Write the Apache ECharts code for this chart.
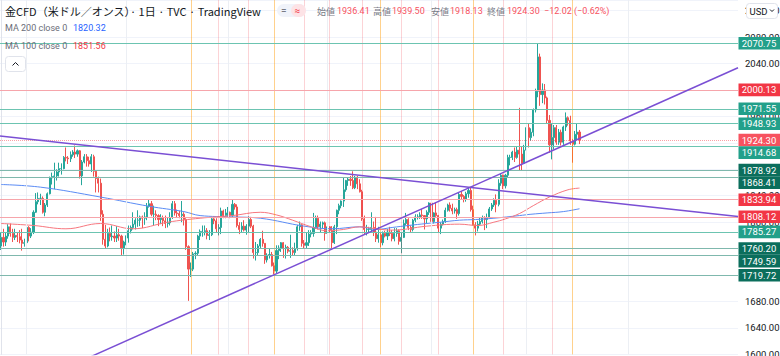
<!DOCTYPE html>
<html><head><meta charset="utf-8">
<script src="https://cdn.jsdelivr.net/npm/echarts@6/dist/echarts.min.js"></script>
<style>html,body{margin:0;padding:0;background:#fff}#c{width:780px;height:356px}</style>
</head><body><div id="c"></div>
<script>
// ---- data ----
const startDate = '2021-04-16';
const totalSlots = 319; // bars + empty right margin
// daily candles [open, close, low, high]
const ohlc = [
[1764,1777,1758,1784],[1777,1770,1763,1790],[1770,1779,1764,1784],[1779,1793,1775,1797],[1793,1783,1778,1798],
[1783,1777,1770,1790],[1777,1780,1773,1790],[1780,1778,1770,1784],[1778,1773,1768,1788],[1773,1768,1757,1790],
[1768,1769,1763,1775],[1769,1792,1767,1798],[1792,1779,1771,1794],[1779,1785,1776,1791],[1785,1815,1782,1818],
[1815,1831,1814,1844],[1831,1836,1827,1845],[1836,1836,1826,1843],[1836,1815,1813,1839],[1815,1826,1809,1829],
[1826,1843,1823,1845],[1843,1867,1842,1869],[1867,1869,1857,1875],[1869,1870,1850,1890],[1870,1876,1863,1880],
[1876,1881,1869,1890],[1881,1881,1872,1889],[1881,1898,1880,1900],[1898,1897,1892,1913],[1897,1896,1888,1900],
[1896,1902,1891,1907],[1902,1906,1899,1909],[1906,1903,1897,1916],[1903,1908,1899,1910],[1908,1870,1866,1909],
[1870,1891,1856,1894],[1891,1899,1889,1903],[1899,1893,1884,1903],[1893,1888,1884,1899],[1888,1899,1876,1903],
[1899,1877,1869,1902],[1877,1866,1845,1878],[1866,1859,1845,1869],[1859,1812,1802,1866],[1812,1774,1766,1818],
[1774,1764,1760,1796],[1764,1783,1762,1790],[1783,1778,1771,1792],[1778,1779,1772,1795],[1779,1776,1770,1786],
[1776,1781,1770,1794],[1781,1779,1772,1790],[1779,1761,1750,1781],[1761,1770,1751,1772],[1770,1776,1765,1780],
[1776,1787,1769,1795],[1787,1792,1783,1795],[1792,1797,1789,1815],[1797,1803,1789,1806],[1803,1803,1793,1818],
[1803,1808,1794,1810],[1808,1806,1791,1810],[1806,1808,1796,1815],[1808,1824,1803,1829],[1824,1828,1822,1834],
[1828,1812,1809,1832],[1812,1812,1795,1825],[1812,1810,1803,1818],[1810,1804,1794,1812],[1804,1806,1797,1812],
[1806,1802,1794,1810],[1802,1798,1791,1810],[1798,1799,1792,1807],[1799,1807,1795,1815],[1807,1828,1805,1832],
[1828,1814,1810,1832],[1814,1813,1807,1819],[1813,1810,1806,1817],[1810,1812,1800,1832],[1812,1804,1795,1815],
[1804,1763,1758,1806],[1763,1729,1681,1765],[1729,1729,1717,1739],[1729,1752,1726,1755],[1752,1753,1744,1756],
[1753,1779,1749,1781],[1779,1786,1773,1789],[1786,1786,1778,1795],[1786,1787,1780,1795],[1787,1780,1774,1791],
[1780,1781,1773,1788],[1781,1805,1779,1807],[1805,1802,1797,1809],[1802,1790,1785,1806],[1790,1792,1780,1797],
[1792,1817,1782,1822],[1817,1810,1806,1819],[1810,1814,1806,1820],[1814,1815,1808,1823],[1815,1810,1806,1816],
[1810,1827,1808,1834],[1827,1823,1819,1829],[1823,1795,1792,1827],[1795,1789,1782,1800],[1789,1794,1784,1800],
[1794,1788,1786,1803],[1788,1794,1781,1797],[1794,1804,1785,1809],[1804,1794,1791,1808],[1794,1754,1745,1796],
[1754,1754,1742,1770],[1754,1764,1750,1767],[1764,1774,1761,1776],[1774,1768,1763,1787],[1768,1743,1737,1768],
[1743,1750,1739,1753],[1750,1751,1745,1760],[1751,1734,1733,1755],[1734,1726,1721,1739],[1726,1757,1723,1765],
[1757,1761,1744,1765],[1761,1769,1755,1770],[1769,1760,1746,1770],[1760,1762,1745,1766],[1762,1756,1753,1764],
[1756,1757,1746,1781],[1757,1754,1749,1762],[1754,1760,1750,1769],[1760,1793,1757,1796],[1793,1796,1787,1801],
[1796,1768,1763,1797],[1768,1765,1760,1773],[1765,1769,1760,1785],[1769,1782,1764,1788],[1782,1783,1777,1788],
[1783,1792,1778,1814],[1792,1806,1790,1810],[1806,1793,1789,1810],[1793,1797,1784,1801],[1797,1799,1791,1801],
[1799,1783,1772,1801],[1783,1793,1780,1796],[1793,1788,1785,1794],[1788,1769,1758,1794],[1769,1793,1767,1796],
[1793,1818,1782,1819],[1818,1825,1812,1828],[1825,1832,1821,1833],[1832,1849,1823,1868],[1849,1863,1846,1864],
[1863,1865,1855,1868],[1865,1863,1855,1870],[1863,1852,1850,1877],[1852,1868,1850,1870],[1868,1858,1850,1870],
[1858,1846,1845,1865],[1846,1805,1802,1849],[1805,1789,1782,1810],[1789,1789,1780,1796],[1789,1789,1784,1793],
[1789,1792,1784,1815],[1792,1785,1779,1801],[1785,1775,1770,1808],[1775,1781,1769,1793],[1781,1769,1762,1785],
[1769,1783,1765,1786],[1783,1779,1777,1787],[1779,1785,1773,1790],[1785,1783,1779,1793],[1783,1775,1771,1788],
[1775,1783,1771,1791],[1783,1787,1778,1791],[1787,1771,1766,1789],[1771,1777,1753,1785],[1777,1798,1776,1804],
[1798,1804,1795,1814],[1804,1792,1788,1806],[1792,1789,1784,1795],[1789,1803,1786,1805],[1803,1808,1800,1812],
[1808,1808,1804,1812],[1808,1811,1805,1815],[1811,1810,1805,1820],[1810,1805,1789,1810],[1805,1815,1798,1818],
[1815,1829,1811,1830],[1829,1801,1798,1832],[1801,1814,1798,1815],[1814,1810,1808,1830],[1810,1791,1785,1811],
[1791,1797,1782,1800],[1797,1801,1795,1804],[1801,1818,1799,1822],[1818,1826,1816,1828],[1826,1821,1816,1830],
[1821,1817,1812,1828],[1817,1819,1813,1822],[1819,1813,1805,1822],[1813,1842,1810,1845],[1842,1839,1834,1847],
[1839,1835,1830,1841],[1835,1843,1831,1846],[1843,1848,1837,1853],[1848,1819,1816,1852],[1819,1796,1795,1825],
[1796,1791,1780,1800],[1791,1797,1786,1802],[1797,1801,1795,1807],[1801,1807,1798,1810],[1807,1804,1788,1809],
[1804,1807,1791,1813],[1807,1820,1806,1823],[1820,1826,1817,1829],[1826,1833,1823,1836],[1833,1827,1815,1842],
[1827,1859,1824,1865],[1859,1871,1855,1874],[1871,1855,1850,1872],[1855,1871,1851,1873],[1871,1898,1868,1902],
[1898,1898,1886,1902],[1898,1906,1894,1908],[1906,1898,1891,1913],[1898,1909,1896,1914],[1909,1903,1878,1973],
[1903,1889,1878,1914],[1889,1909,1889,1917],[1909,1943,1900,1950],[1943,1928,1913,1949],[1928,1936,1923,1942],
[1936,1970,1930,1972],[1970,1998,1966,2002],[1998,2050,1989,2070.75],[2050,1993,1976,2055],[1993,2000,1980,2010],
[2000,1988,1978,2009],[1988,1954,1949,1990],[1954,1917,1905,1962],[1917,1928,1895,1949],[1928,1943,1910,1947],
[1943,1921,1917,1947],[1921,1936,1917,1941],[1936,1921,1916,1940],[1921,1944,1917,1946],[1944,1958,1938,1966],
[1958,1954,1946,1960],[1954,1923,1917,1961],[1923,1918,1890,1926],[1918,1933,1916,1938],[1933,1936.32,1924,1949],
[1936.41,1924.30,1918.13,1939.50]
];
// moving averages: [bar index, value]
const ma100 = [[0,1798],[14,1795],[28,1790],[43,1798],[57,1790],[72,1800],[86,1806],[100,1810],[112,1815],[119,1811],[126,1803],[134,1793],[141,1787],[148,1789],[155,1793],[162,1790],[169,1788],[184,1794],[198,1797],[206,1795],[213,1800],[218,1805],[224,1813],[230,1825],[237,1838],[245,1849],[250,1851.56]];
const ma200 = [[0,1857],[17,1853],[43,1838],[64,1824],[79,1816],[86,1810],[100,1808],[112,1806],[131,1794],[143,1790],[155,1793],[162,1789],[169,1792],[176,1795],[184,1798],[190,1800],[198,1803],[205,1804],[213,1806],[224,1810],[229,1812],[236,1814],[243,1816],[250,1820.32]];
// horizontal levels
const levels     = [2070.75, 2000.13, 1971.55, 1948.93, 1914.68, 1878.92, 1868.41, 1833.94, 1808.12, 1785.27, 1760.20, 1749.59, 1719.72];
const levelKinds = ['teal','red','teal','teal','teal','dark','dark','red','red','teal','dark','dark','dark'];
// trend lines: [[barIndex, price],[barIndex, price]]
const trendDown = [[-0.5,1930.35],[318.5,1808.55]];
const trendUp   = [[39,1597],[318.5,2033.6]];
// vertical markers (bar index)
const orangeMarks = [82,118,164,204,247];
const pinkMarks   = [94,107,131,142,156,173,189,217,238];
const monthGrid   = [11,54,98,141,186,227,271];
// y axis
const yMin = 1600, yMax = 2136.1, yStep = 40;
// header
const title = '金CFD（米ドル／オンス）· 1日 · TVC · TradingView';
const ohlcNames = ['始値','高値','安値','終値'];
const maNames = ['MA 200 close 0','MA 100 close 0'];

// ---- derived ----
function weekdays(start, n){const out=[];const d=new Date(start+'T00:00:00Z');while(out.length<n){const w=d.getUTCDay();if(w!==0&&w!==6)out.push(d.toISOString().slice(0,10));d.setUTCDate(d.getUTCDate()+1);}return out;}
const categories = weekdays(startDate, totalSlots);
const last = ohlc[ohlc.length-1], prev = ohlc[ohlc.length-2];
const chg = last[1]-prev[1], pct = chg/prev[1]*100;
const signed = v => (v<0?'−':'+')+Math.abs(v).toFixed(2);

const kindStyle = {
  teal:{line:'#6cc4b1', bg:'#22a08a'},
  dark:{line:'#7fb8ad', bg:'#0b6e5c'},
  red: {line:'#f6a5ab', bg:'#f23645'},
  last:{line:'#f7525f', bg:'#f7525f'}
};

const chart = echarts.init(document.getElementById('c'), null, {renderer:'svg'});
const CJK = '"Noto Sans CJK JP", sans-serif';
const LAT = 'Roboto, "Noto Sans", sans-serif';

const vMark = (arr, color) => ({
  silent:true, symbol:'none', label:{show:false}, animation:false,
  lineStyle:{color, width:1, type:'solid'},
  data: arr.map(v=>({xAxis:v}))
});

const baseOption = {
  animation:false,
  grid:{left:0, right:42, top:0, bottom:1.6, outerBoundsMode:'none', containLabel:false},
  xAxis:[
    {type:'category', data:categories, boundaryGap:true, show:false},
    {type:'value', min:-0.5, max:totalSlots-0.5, show:false}
  ],
  yAxis:{type:'value', position:'right', min:yMin, max:yMax, interval:yStep,
    axisLine:{show:true, lineStyle:{color:'#e0e3eb'}}, axisTick:{show:false},
    axisLabel:{formatter:v=>v.toFixed(2), color:'#131722', fontSize:9.5, fontFamily:LAT, margin:7, showMaxLabel:false},
    splitLine:{show:true, lineStyle:{color:'#f0f3fa', width:1}}},
  series:[
    {type:'line', xAxisIndex:1, data:[], z:1, markLine:vMark(monthGrid,'#eceff4')},
    {type:'line', xAxisIndex:1, data:[], z:1, markLine:vMark(orangeMarks,'rgba(255,152,0,0.45)')},
    {type:'line', xAxisIndex:1, data:[], z:1, markLine:vMark(pinkMarks,'rgba(242,54,69,0.22)')},
    {type:'candlestick', xAxisIndex:0, data:ohlc, barWidth:1.6, z:3,
      itemStyle:{color:'#26a69a', color0:'#ef5350', borderColor:'#26a69a', borderColor0:'#ef5350', borderWidth:1}},
    {type:'line', xAxisIndex:1, data:ma200, smooth:0.4, symbol:'none', z:4, lineStyle:{color:'#5b8cf5', width:1}},
    {type:'line', xAxisIndex:1, data:ma100, smooth:0.4, symbol:'none', z:4, lineStyle:{color:'#f7777f', width:1}},
    {type:'line', xAxisIndex:1, data:[], z:5, markLine:{silent:true, symbol:'none', label:{show:false}, animation:false,
      data: levels.map((v,k)=>({yAxis:v, lineStyle:{color:kindStyle[levelKinds[k]].line, width:1, type:'solid'}}))
        .concat([{yAxis:last[1], lineStyle:{color:'rgba(247,82,95,0.55)', width:1, type:'dotted'}}])}},
    {type:'line', xAxisIndex:1, data:trendDown, symbol:'none', z:6, lineStyle:{color:'#7a4fd4', width:1.5}},
    {type:'line', xAxisIndex:1, data:trendUp, symbol:'none', z:6, lineStyle:{color:'#7a4fd4', width:1.5}}
  ]
};
chart.setOption(baseOption);

// ---- overlay texts and price labels ----
const g = [];
const txt = (text, x, y, fill, font, extra) => g.push(Object.assign({type:'text', x, y, z:100,
  style:{text, fill, font, textVerticalAlign:'middle', verticalAlign:'middle'}}, extra||{}));

txt(title, 5, 10.5, '#131722', '11px '+CJK);
// pill buttons
g.push({type:'rect', z:100, shape:{x:277,y:4,width:29,height:13,r:6.5}, style:{fill:'#f0f3fa'}});
g.push({type:'rect', z:101, shape:{x:291,y:4,width:15,height:13,r:6.5}, style:{fill:'#fde3e6'}});
txt('=', 281, 10, '#787b86', '10px '+LAT, {z:102});
txt('≈', 294.5, 10, '#f23645', '10px '+LAT, {z:102});
// OHLC values
const ohlcVals = [last[0], last[3], last[2], last[1]];
const ohlcX = [[317,337],[373,392],[431,450],[487,507]];
ohlcNames.forEach((n,k)=>{ txt(n, ohlcX[k][0], 11, '#787b86', '9px '+CJK); txt(ohlcVals[k].toFixed(2), ohlcX[k][1], 11, '#f7525f', '9px '+LAT); });
txt(signed(chg)+' ('+signed(pct)+'%)', 544, 11, '#f7525f', '9px '+LAT);
// MA legends
txt(maNames[0], 5, 28, '#6a6d78', '9px '+LAT);
txt(ma200[ma200.length-1][1].toFixed(2), 73, 28, '#2962ff', '9px '+LAT);
txt(maNames[1], 5, 45.5, '#6a6d78', '9px '+LAT);
txt(ma100[ma100.length-1][1].toFixed(2), 73, 45.5, '#f23645', '9px '+LAT);
// collapse button
g.push({type:'rect', z:100, shape:{x:5.5,y:56.5,width:20,height:15,r:3}, style:{fill:'#fff', stroke:'#e0e3eb', lineWidth:1}});
g.push({type:'polyline', z:101, shape:{points:[[12.5,65.5],[15.5,62.5],[18.5,65.5]]}, style:{stroke:'#131722', lineWidth:1, fill:null}});
// USD button
g.push({type:'rect', z:100, shape:{x:746.5,y:3.5,width:31,height:15,r:3}, style:{fill:'#fff', stroke:'#e0e3eb', lineWidth:1}});
txt('USD', 749.5, 11, '#131722', '9.5px '+LAT, {z:101});
g.push({type:'polyline', z:101, shape:{points:[[770,9.5],[772,11.5],[774,9.5]]}, style:{stroke:'#131722', lineWidth:1, fill:null}});

// price labels on the axis, pushed apart when overlapping
const items = levels.map((v,k)=>({v, kind:levelKinds[k]}));
items.push({v:last[1], kind:'last'});
items.forEach(it=>{ it.y = chart.convertToPixel({yAxisIndex:0}, it.v); });
items.sort((a,b)=>a.y-b.y);
const H = 12.6;
for (let k=1;k<items.length;k++){ if (items[k].y < items[k-1].y + H) items[k].y = items[k-1].y + H; }
items.forEach(it=>{
  g.push({type:'rect', z:110, shape:{x:738.5, y:it.y-H/2, width:41.5, height:H}, style:{fill:kindStyle[it.kind].bg}});
  g.push({type:'text', z:111, x:759, y:it.y, style:{text:it.v.toFixed(2), fill:'#fff', font:'9.5px '+LAT, textAlign:'center', align:'center', textVerticalAlign:'middle', verticalAlign:'middle'}});
});

// axis labels wholly hidden behind a price label are left blank
function covered(y){
  const a = y-3.5, b = y+3.5;
  const segs = items.map(it=>[it.y-H/2, it.y+H/2]).sort((p,q)=>p[0]-q[0]);
  let pos = a;
  for (const s of segs){ if (s[0] <= pos && s[1] > pos) pos = s[1]; }
  return pos >= b;
}
chart.setOption({
  yAxis:{axisLabel:{formatter:v=>covered(chart.convertToPixel({yAxisIndex:0}, v)) ? '' : v.toFixed(2)}},
  graphic: g
});
</script></body></html>
